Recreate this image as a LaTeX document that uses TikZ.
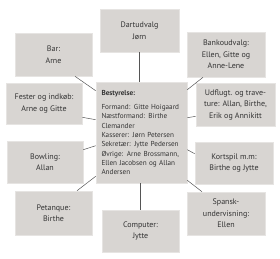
\documentclass[tikz,border=0pt]{standalone}
\usepackage{fontspec}
\setmainfont{PT Sans}
\usetikzlibrary{calc}
\definecolor{boxfill}{HTML}{D8D5D2}
\definecolor{boxline}{HTML}{E6E4E2}
\definecolor{conn}{HTML}{555555}
\definecolor{txt}{HTML}{333333}
\begin{document}
\begin{tikzpicture}[x=1pt,y=-1pt,
  box/.style={draw=boxline,fill=boxfill,line width=0.6pt,align=center,inner sep=2pt,
    font=\fontsize{8}{11.5}\selectfont,text=txt},
  conline/.style={draw=conn,line width=0.5pt}]
\useasboundingbox (0,0) rectangle (280,258);
\node[box,minimum width=79pt,minimum height=43pt] (dart) at (139.5,30.5) {Dartudvalg\\Jørn};
\node[box,minimum width=77pt,minimum height=43pt] (bar) at (53.5,54.5) {Bar:\\Arne};
\node[box,minimum width=78pt,minimum height=45pt] (bank) at (226,54.5) {Bankoudvalg:\\Ellen, Gitte og\\Anne-Lene};
\node[box,minimum width=76pt,minimum height=41pt] (fest) at (44,103.5) {Fester og indkøb:\\Arne og Gitte};
\node[box,minimum width=79pt,minimum height=43pt] (udf) at (235.5,104.5) {Udflugt. og trave-\\ture: Allan, Birthe,\\Erik og Annikitt};
\node[box,minimum width=76pt,minimum height=42pt] (bow) at (45,162) {Bowling:\\Allan};
\node[box,minimum width=78pt,minimum height=42pt] (kort) at (234,163) {Kortspil m.m:\\Birthe og Jytte};
\node[box,minimum width=77pt,minimum height=44pt] (pet) at (53.5,213) {Petanque:\\Birthe};
\node[box,minimum width=78pt,minimum height=43pt] (spa) at (226,213.5) {Spansk-\\undervisning:\\Ellen};
\node[box,minimum width=77pt,minimum height=42pt] (comp) at (140.5,231) {Computer:\\Jytte};
\node[box,minimum width=91pt,minimum height=101pt,text width=80pt,align=left,inner sep=5.5pt,
  font=\fontsize{7.2}{9.33}\selectfont] (cen) at (141.5,132.5)
  {\textbf{Bestyrelse:}\\[4.7pt]
   Formand: Gitte Hoigaard\\
   Næstformand: Birthe\\
   Clemander\\
   Kasserer: Jørn Petersen\\
   Sekretær: Jytte Pedersen\\
   Øvrige: Arne Brossmann,\\
   Ellen Jacobsen og Allan\\
   Andersen};
\draw[conline] (dart.south) -- (dart.south |- cen.north);
\draw[conline] (comp.north) -- (comp.north |- cen.south);
\draw[conline] ([xshift=21.5pt]bar.south) -- ([yshift=-9pt]cen.north west);
\draw[conline] ([yshift=7pt]fest.south east) -- ([yshift=-38pt]cen.north west);
\draw[conline] ([xshift=-23pt]bank.south) -- ([yshift=-8pt]cen.north east);
\draw[conline] ([yshift=10pt]udf.south west) -- ([yshift=-36pt]cen.north east);
\draw[conline] ([yshift=-9pt]bow.north east) -- ([yshift=-64pt]cen.north west);
\draw[conline] ([xshift=23.5pt]pet.north) -- ([yshift=7pt]cen.south west);
\draw[conline] ([yshift=-12pt]kort.north west) -- ([yshift=-68pt]cen.north east);
\draw[conline] ([xshift=-24pt]spa.north) -- ([yshift=3pt]cen.south east);
\end{tikzpicture}
\end{document}
